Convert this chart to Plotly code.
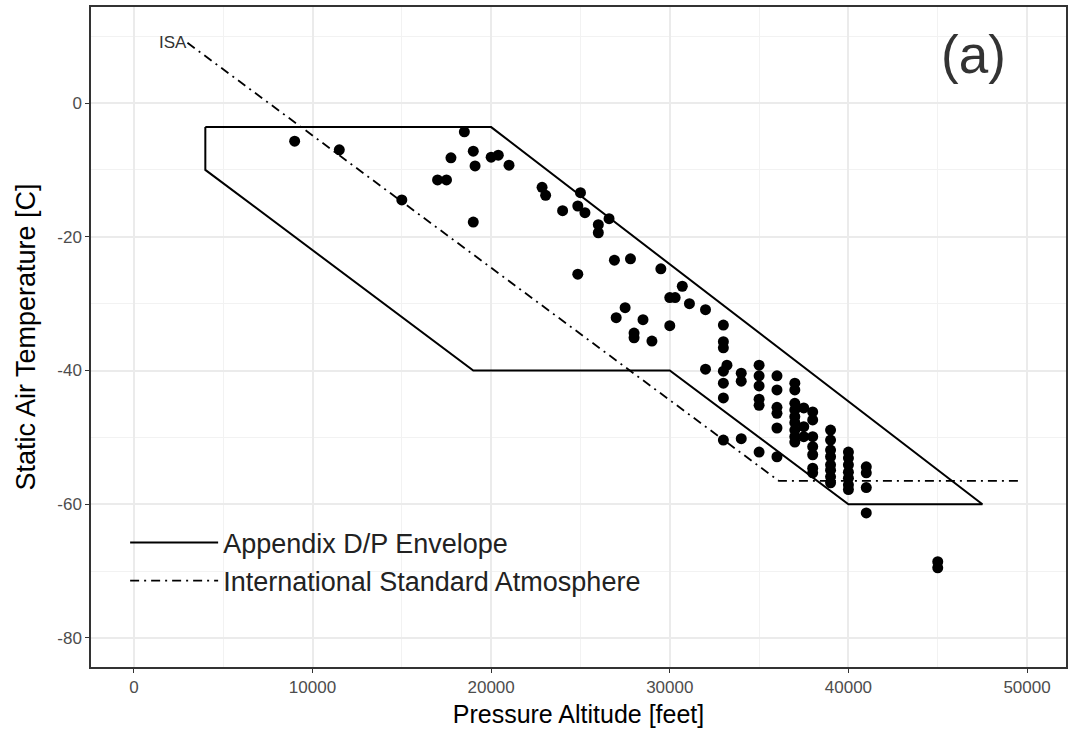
import plotly.graph_objects as go

# ---- Data ----
obs_altitude = [9000, 11500, 15000, 17000, 17500, 17750, 18500, 19000, 19100, 19000,
                20000, 20400, 21000, 22850, 23050, 24000, 24850, 25000, 25250, 24850,
                26000, 26000, 26600, 26900, 27800, 27000, 27500, 28000, 28000, 28500,
                29000, 29500, 30000, 30300, 30000, 30700, 31100, 32000, 32000,
                33000, 33000, 33000, 33200, 33000, 33000, 33000, 33000,
                34000, 34000, 34000,
                35000, 35000, 35000, 35000, 35000, 35000,
                36000, 36000, 36000, 36000, 36000, 36000,
                37000, 37000, 37000, 37000, 37000, 37000, 37000, 37000, 37000,
                37500, 37500, 37500,
                38000, 38000, 38000, 38000, 38000, 38000, 38000,
                39000, 39000, 39000, 39000, 39000, 39000, 39000, 39000,
                40000, 40000, 40000, 40000, 40000, 40000, 40000,
                41000, 41000, 41000, 41000,
                45000, 45000]
obs_temperature = [-5.7, -7.0, -14.5, -11.5, -11.5, -8.2, -4.3, -7.2, -9.4, -17.8,
                   -8.1, -7.8, -9.3, -12.6, -13.8, -16.1, -15.4, -13.4, -16.4, -25.6,
                   -18.2, -19.4, -17.3, -23.5, -23.3, -32.1, -30.6, -34.4, -35.1, -32.4,
                   -35.6, -24.8, -29.1, -29.1, -33.3, -27.4, -30.0, -30.9, -39.8,
                   -33.2, -35.7, -36.6, -39.2, -40.1, -41.9, -44.1, -50.4,
                   -40.4, -41.6, -50.2,
                   -39.2, -40.8, -42.3, -44.3, -45.2, -52.2,
                   -40.8, -42.9, -45.5, -46.4, -48.6, -52.9,
                   -41.9, -42.9, -44.9, -45.9, -46.9, -47.8, -48.9, -49.9, -50.7,
                   -45.6, -48.4, -49.9,
                   -46.2, -47.4, -49.9, -51.4, -52.6, -54.6, -55.3,
                   -48.9, -50.4, -51.9, -52.9, -54.1, -54.9, -55.9, -56.8,
                   -52.2, -53.1, -54.1, -55.2, -56.1, -57.1, -57.8,
                   -54.4, -55.3, -57.5, -61.3,
                   -68.6, -69.5]

envelope_altitude = [4000, 20000, 47500, 40000, 30000, 19000, 4000, 4000]
envelope_temperature = [-3.6, -3.6, -60, -60, -40, -40, -10, -3.6]

isa_altitude = [3000, 36100, 49700]
isa_temperature = [9.0, -56.5, -56.5]

x_ticks = [0, 10000, 20000, 30000, 40000, 50000]
y_ticks = [-80, -60, -40, -20, 0]

FONT = "Liberation Sans, Arial, sans-serif"

fig = go.Figure()

fig.add_trace(go.Scatter(
    x=envelope_altitude, y=envelope_temperature, mode="lines",
    line=dict(color="black", width=2), name="Appendix D/P Envelope"))

fig.add_trace(go.Scatter(
    x=isa_altitude, y=isa_temperature, mode="lines",
    line=dict(color="black", width=1.8, dash="9px,5px,2px,5px"),
    name="International Standard Atmosphere"))

fig.add_trace(go.Scatter(
    x=obs_altitude, y=obs_temperature, mode="markers",
    marker=dict(color="black", size=11), showlegend=False))

fig.add_annotation(x=isa_altitude[0], y=isa_temperature[0], text="ISA",
                   showarrow=False, xanchor="right", yanchor="middle", xshift=2,
                   font=dict(family=FONT, size=17, color="#333333"))
fig.add_annotation(x=47000, y=7.2, text="(a)", showarrow=False,
                   xanchor="center", yanchor="middle",
                   font=dict(family=FONT, size=53, color="#333333"))

axis_common = dict(
    showgrid=True, gridcolor="#EBEBEB", gridwidth=1.8,
    showline=True, linecolor="#333333", linewidth=1.5, mirror=True,
    ticks="outside", ticklen=4, tickcolor="#333333", tickwidth=1.2,
    tickfont=dict(family=FONT, size=17, color="#4D4D4D"),
    zeroline=False,
)

fig.update_xaxes(
    range=[-2400, 52180], tickvals=x_ticks, ticktext=[str(v) for v in x_ticks],
    minor=dict(dtick=5000, tick0=0, showgrid=True, gridcolor="#F2F2F2", gridwidth=1, ticks=""),
    title=dict(text="Pressure Altitude [feet]", font=dict(family=FONT, size=25, color="black"),
               standoff=9),
    **axis_common)
fig.update_yaxes(
    range=[-84.34, 14.36], tickvals=y_ticks, ticktext=[str(v) for v in y_ticks],
    minor=dict(dtick=10, tick0=-90, showgrid=True, gridcolor="#F2F2F2", gridwidth=1, ticks=""),
    title=dict(text="Static Air Temperature [C]", font=dict(family=FONT, size=27, color="black"),
               standoff=14),
    **axis_common)

fig.update_layout(
    width=1070, height=738,
    margin=dict(l=91, r=2, t=7, b=71),
    plot_bgcolor="white", paper_bgcolor="white",
    legend=dict(x=0.035, y=0.225, xanchor="left", yanchor="top",
                bgcolor="rgba(0,0,0,0)", itemwidth=88,
                font=dict(family=FONT, size=27, color="#222222"),
                tracegroupgap=0),
    showlegend=True,
)

fig.write_html("out.html")
